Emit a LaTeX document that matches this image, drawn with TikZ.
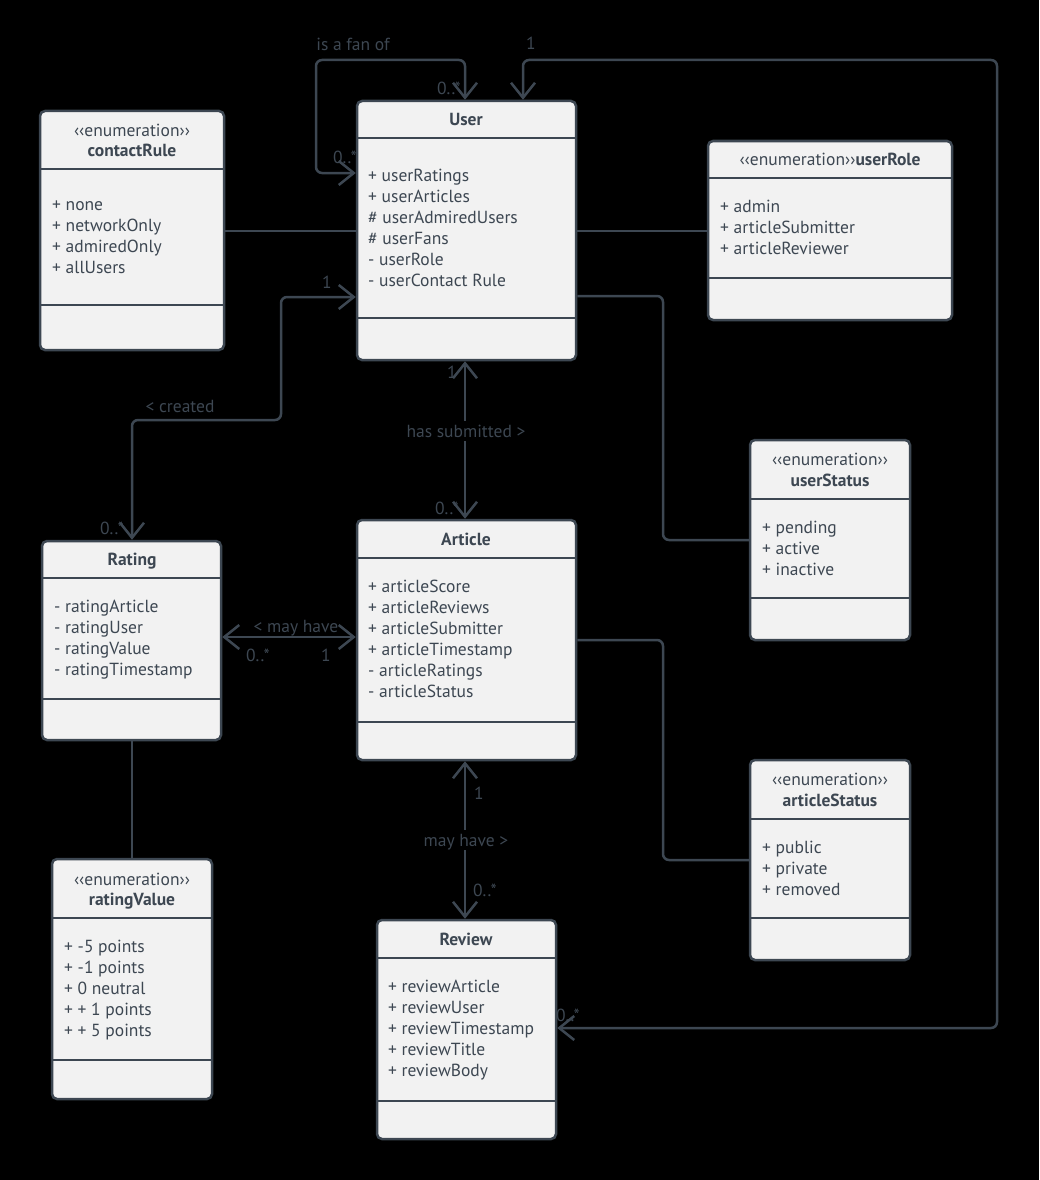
\documentclass[tikz,border=0pt]{standalone}
\usepackage{fontspec}
\setmainfont{PT Sans}
\usetikzlibrary{arrows.meta,fit}
\definecolor{ink}{HTML}{3D4752}
\definecolor{boxfill}{HTML}{F2F2F2}
\newcommand\umlcls[7]{%
  \node[umlbox, fit={(#2,#3) (#4,#5)}] (#1) {};
  \draw[divline] (#1.west |- 0,#6) -- (#1.east |- 0,#6);
  \draw[divline] (#1.west |- 0,#7) -- (#1.east |- 0,#7);
}
\newcommand\umlattrs[3]{%
  \foreach \t [count=\i from 0] in {#3} \node[attr] at (#1, #2+21*\i) {\t};
}
\newcommand\enumst{‹‹enumeration››}
\begin{document}
\begin{tikzpicture}[x=1pt,y=-1pt,
  umlbox/.style={draw=ink, fill=boxfill, line width=2.5pt, rounded corners=5pt, inner sep=0pt},
  divline/.style={draw=ink, line width=2.5pt},
  conn/.style={draw=ink, line width=2.5pt, rounded corners=6pt},
  >={Straight Barb[length=15pt,width=24pt]},
  txt/.style={inner sep=0pt, text=ink, text height=12pt, text depth=0pt, font=\fontsize{17.5}{21}\selectfont},
  attr/.style={txt, anchor=west},
  ttl/.style={txt, font=\fontsize{17.5}{21}\selectfont\bfseries},
  ster/.style={txt},
  lbl/.style={txt},
  lblbg/.style={txt, fill=black, inner xsep=2pt, inner ysep=4pt},
]
\fill[black] (0,0) rectangle (1039,1180);

% classes
\umlcls{user}{357}{101}{576}{360}{138}{318}
\node[ttl] (userT) at (466,119) {User};
\umlattrs{368}{175}{+ userRatings,+ userArticles,\# userAdmiredUsers,\# userFans,- userRole,- userContact Rule}

\umlcls{contact}{40}{111}{224}{350}{169}{305}
\node[ster] (contactS) at (132,130) {\enumst};
\node[ttl] (contactT) at (132,151) {contactRule};
\umlattrs{52}{204}{+ none,+ networkOnly,+ admiredOnly,+ allUsers}

\umlcls{userrole}{708}{141}{952}{320}{178}{278}
\node[ster] (userroleT) at (830,159) {\enumst\textbf{userRole}};
\umlattrs{720}{206}{+ admin,+ articleSubmitter,+ articleReviewer}

\umlcls{userstatus}{750}{440}{910}{640}{499}{598}
\node[ster] (userstatusS) at (830,459) {\enumst};
\node[ttl] (userstatusT) at (830,480) {userStatus};
\umlattrs{762}{527}{+ pending,+ active,+ inactive}

\umlcls{article}{357}{520}{576}{760}{558}{722}
\node[ttl] (articleT) at (466,539) {Article};
\umlattrs{368}{586}{+ articleScore,+ articleReviews,+ articleSubmitter,+ articleTimestamp,- articleRatings,- articleStatus}

\umlcls{rating}{42}{541}{221}{740}{578}{699}
\node[ttl] (ratingT) at (132,559) {Rating};
\umlattrs{54}{606}{- ratingArticle,- ratingUser,- ratingValue,- ratingTimestamp}

\umlcls{ratingvalue}{52}{859}{212}{1099}{918}{1060}
\node[ster] (ratingvalueS) at (132,879) {\enumst};
\node[ttl] (ratingvalueT) at (132,899) {ratingValue};
\umlattrs{64}{946}{+ -5 points,+ -1 points,+ 0 neutral,+ + 1 points,+ + 5 points}

\umlcls{review}{377}{920}{556}{1139}{958}{1101}
\node[ttl] (reviewT) at (466,939) {Review};
\umlattrs{388}{986}{+ reviewArticle,+ reviewUser,+ reviewTimestamp,+ reviewTitle,+ reviewBody}

\umlcls{articlestatus}{750}{760}{910}{960}{819}{918}
\node[ster] (articlestatusS) at (830,779) {\enumst};
\node[ttl] (articlestatusT) at (830,800) {articleStatus};
\umlattrs{762}{847}{+ public,+ private,+ removed}

% connectors
\coordinate (fanL) at (316,60);
\draw[conn,<->] (user.west |- 0,173) -| (fanL) -| (465,0 |- user.north);
\coordinate (revR) at (997,60);
\draw[conn,<->] (review.east |- 0,1028) -| (revR) -| (523,0 |- user.north);
\draw[conn] (contact.east |- 0,231) -- (user.west |- 0,231);
\draw[conn] (user.east |- 0,231) -- (userrole.west |- 0,231);
\coordinate (usK) at (663,540);
\draw[conn] (user.east |- 0,296) -| (usK) -- (userstatus.west |- usK);
\coordinate (asK) at (663,860);
\draw[conn] (article.east |- 0,640) -| (asK) -- (articlestatus.west |- asK);
\coordinate (crK) at (281,420);
\draw[conn,<->] (user.west |- 0,297) -| (crK) -| (132,0 |- rating.north);
\draw[conn,<->] (465,0 |- user.south) -- (465,0 |- article.north);
\draw[conn,<->] (rating.east |- 0,637) -- (article.west |- 0,637);
\draw[conn,<->] (465,0 |- article.south) -- (465,0 |- review.north);
\draw[conn] (132,0 |- rating.south) -- (132,0 |- ratingvalue.north);

% labels
\node[lbl] (l1) at (353,45) {is a fan of};
\node[lbl] (l2) at (449,89) {0..*};
\node[lbl] (l3) at (345,158) {0..*};
\node[lbl] (l4) at (531,44) {1};
\node[lbl] (l5) at (568,1015) {0..*};
\node[lbl] (l6) at (327,282) {1};
\node[lbl] (l7) at (180,406) {< created};
\node[lbl] (l8) at (112,528) {0..*};
\node[lbl] (l9) at (452,372) {1};
\node[lblbg] (l10) at (466,431) {has submitted >};
\node[lbl] (l11) at (447,508) {0..*};
\node[lbl] (l12) at (296,626) {< may have};
\node[lbl] (l13) at (258,655) {0..*};
\node[lbl] (l14) at (326,655) {1};
\node[lbl] (l15) at (479,793) {1};
\node[lblbg] (l16) at (466,840) {may have >};
\node[lbl] (l17) at (485,890) {0..*};
\end{tikzpicture}
\end{document}
